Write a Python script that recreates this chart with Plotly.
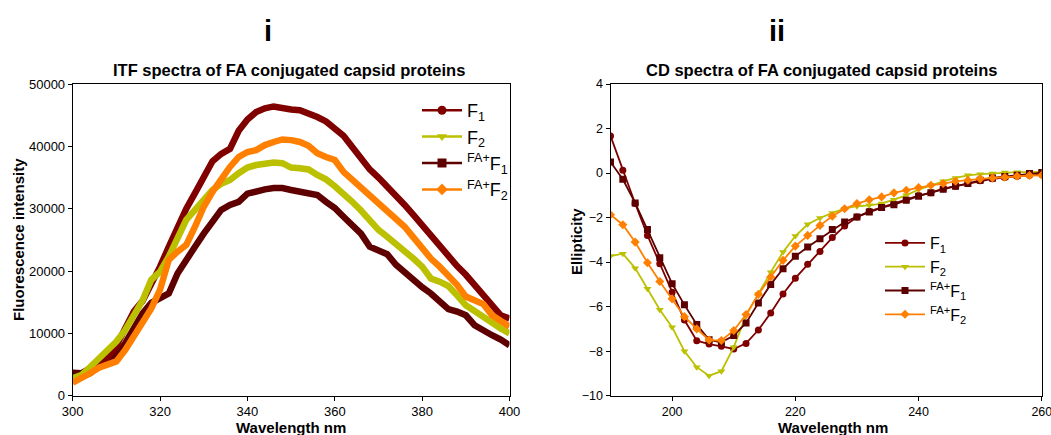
import plotly.graph_objects as go

# ---------------- data: panel i (ITF spectra) ----------------
itf_wl = [300, 302, 304, 306, 308, 310, 312, 314, 316, 318, 320, 322, 324, 326, 328, 330,
          332, 334, 336, 338, 340, 342, 344, 346, 348, 350, 352, 354, 356, 358, 360, 362,
          364, 366, 368, 370, 372, 374, 376, 378, 380, 382, 384, 386, 388, 390, 392, 394,
          396, 398, 400]
itf_F1 = [2500, 3000, 3600, 4800, 6200, 8000, 10500, 13500, 15200, 17800, 20700, 23900,
          27100, 30000, 32500, 35100, 37600, 38800, 39600, 42500, 44300, 45500, 46100, 46400,
          46100, 45900, 45800, 45300, 44700, 44000, 42900, 41700, 39900, 38100, 36300, 35000,
          33600, 32200, 30600, 29000, 27300, 25600, 23900, 22300, 20800, 19400, 17800, 16100,
          14300, 12900, 12400]
itf_F2 = [2800, 3300, 4600, 6000, 7300, 8700, 10500, 12900, 15300, 18600, 19900, 22300,
          25200, 28200, 29800, 31400, 33000, 34000, 34600, 35700, 36600, 37000, 37300, 37400,
          37300, 36600, 36500, 36300, 35400, 34700, 33600, 32500, 31100, 29700, 28200, 26600,
          25500, 24400, 23300, 22000, 20700, 18800, 18300, 17600, 16100, 14500, 13600, 12600,
          11700, 10800, 10000]
itf_FAF1 = [3700, 3600, 4400, 5300, 5800, 6500, 8400, 10800, 13200, 14900, 15600, 16400,
            19600, 22000, 23900, 26000, 27900, 29800, 30600, 31100, 32400, 32800, 33100, 33300,
            33300, 33000, 32700, 32600, 32200, 31100, 30100, 28700, 27500, 26000, 23900, 23400,
            22700, 21000, 19700, 18600, 17400, 16400, 15200, 13900, 13500, 12900, 11300, 10400,
            9700, 9000, 8100]
itf_FAF2 = [2100, 2800, 3600, 4500, 4900, 5500, 7300, 9500, 11600, 14000, 17000, 21800,
            23100, 24200, 27100, 30300, 32700, 34900, 36700, 38300, 39100, 39400, 40200, 40700,
            41100, 41000, 40700, 40100, 38900, 38300, 37800, 35900, 34600, 33500, 32200, 30900,
            29500, 28400, 27100, 25400, 23600, 22000, 20700, 19200, 17800, 15900, 15200, 14700,
            12900, 11900, 11100]

# ---------------- data: panel ii (CD spectra) ----------------
cd_wl = [190, 192, 194, 196, 198, 200, 202, 204, 206, 208, 210, 212, 214, 216, 218, 220,
         222, 224, 226, 228, 230, 232, 234, 236, 238, 240, 242, 244, 246, 248, 250, 252,
         254, 256, 258, 260]
cd_F1 = [1.67, 0.13, -1.37, -2.8, -4.07, -5.35, -6.6, -7.53, -7.68, -7.78, -7.9, -7.65,
         -7.05, -6.28, -5.43, -4.72, -4.1, -3.52, -2.9, -2.38, -1.97, -1.72, -1.55, -1.37,
         -1.2, -1.01, -0.88, -0.7, -0.59, -0.47, -0.35, -0.26, -0.2, -0.14, -0.1, -0.07]
cd_F2 = [-3.73, -3.62, -4.27, -5.2, -6.14, -6.92, -8.0, -8.72, -9.1, -8.9, -7.82, -6.4,
         -5.43, -4.45, -3.55, -2.83, -2.3, -2.02, -1.79, -1.6, -1.49, -1.45, -1.37, -1.2,
         -1.0, -0.74, -0.55, -0.37, -0.22, -0.1, -0.05, -0.02, 0.02, 0.04, 0.04, 0.05]
cd_FAF1 = [0.5, -0.28, -1.34, -2.53, -3.8, -4.97, -5.92, -6.8, -7.49, -7.6, -7.3, -6.73,
           -5.84, -5.0, -4.3, -3.74, -3.32, -2.95, -2.54, -2.2, -1.97, -1.75, -1.55, -1.42,
           -1.22, -1.04, -0.88, -0.73, -0.59, -0.47, -0.32, -0.22, -0.16, -0.1, -0.02, 0.02]
cd_FAF2 = [-1.87, -2.32, -3.1, -4.03, -4.87, -5.65, -6.45, -7.0, -7.5, -7.52, -7.07, -6.35,
           -5.45, -4.67, -3.92, -3.28, -2.8, -2.35, -1.94, -1.6, -1.37, -1.2, -1.07, -0.89,
           -0.77, -0.65, -0.55, -0.47, -0.37, -0.32, -0.26, -0.22, -0.19, -0.14, -0.11, -0.1]

names = ["F<sub>1</sub>", "F<sub>2</sub>", "<sup>FA+</sup>F<sub>1</sub>", "<sup>FA+</sup>F<sub>2</sub>"]
colors = ["#800000", "#BBC000", "#5E0000", "#FF8000"]
symbols = ["circle", "triangle-down", "square", "diamond"]

x_ticks_i = [300, 320, 340, 360, 380, 400]
y_ticks_i = [0, 10000, 20000, 30000, 40000, 50000]
x_ticks_ii = [200, 220, 240, 260]
y_ticks_ii = [-10, -8, -6, -4, -2, 0, 2, 4]

W, H = 1051, 435
FONT = "Liberation Sans, Arial, sans-serif"


def px(x):
    return x / W


def py(y):
    return 1 - y / H


fig = go.Figure()

# Panel i thick lines
itf_series = [itf_F1, itf_F2, itf_FAF1, itf_FAF2]
draw_order = [2, 0, 1, 3]
for k in draw_order:
    fig.add_trace(go.Scatter(x=itf_wl, y=itf_series[k], mode="lines",
                             line=dict(color=colors[k], width=6.5),
                             showlegend=False, xaxis="x", yaxis="y"))
# Panel i legend entries (legend-only)
for k in range(4):
    fig.add_trace(go.Scatter(x=[None], y=[None], mode="lines+markers", name=names[k],
                             line=dict(color=colors[k], width=2.5),
                             marker=dict(symbol=symbols[k], size=9, color=colors[k]),
                             legend="legend", legendgroup="a%d" % k,
                             xaxis="x", yaxis="y"))

# Panel ii lines with markers
cd_series = [cd_F1, cd_F2, cd_FAF1, cd_FAF2]
for k in range(4):
    fig.add_trace(go.Scatter(x=cd_wl, y=cd_series[k], mode="lines+markers", name=names[k],
                             line=dict(color=colors[k], width=1.8),
                             marker=dict(symbol=symbols[k], size=7, color=colors[k]),
                             legend="legend2", legendgroup="b%d" % k,
                             xaxis="x2", yaxis="y2"))

axis_common = dict(showline=True, linecolor="black", linewidth=1, mirror=True,
                   ticks="outside", ticklen=4, tickcolor="black", showgrid=False,
                   zeroline=False, automargin=False, ticklabeloverflow="allow")

fig.update_layout(
    width=W, height=H,
    margin=dict(l=0, r=0, t=0, b=0),
    paper_bgcolor="white", plot_bgcolor="white",
    font=dict(family=FONT, color="black"),
    xaxis=dict(domain=[px(72.7), px(509.5)], range=[300, 400], tickvals=x_ticks_i,
               tickfont=dict(size=13), anchor="y", **axis_common),
    yaxis=dict(domain=[py(395.7), py(84)], range=[0, 50000], tickvals=y_ticks_i,
               tickformat="d", tickfont=dict(size=13), anchor="x", **axis_common),
    xaxis2=dict(domain=[px(610.5), px(1041.8)], range=[190, 260], tickvals=x_ticks_ii,
                tickfont=dict(size=12.5), tickprefix="<b>", ticksuffix="</b>",
                anchor="y2", **axis_common),
    yaxis2=dict(domain=[py(395.7), py(84)], range=[-10, 4], tickvals=y_ticks_ii,
                tickfont=dict(size=12.5), tickprefix="<b>", ticksuffix="</b>",
                anchor="x2", **axis_common),
    legend=dict(x=px(417), y=py(92), xanchor="left", yanchor="top",
                font=dict(size=18), bgcolor="rgba(0,0,0,0)", tracegroupgap=0,
                itemwidth=40),
    legend2=dict(x=px(880), y=py(226), xanchor="left", yanchor="top",
                 font=dict(size=16), bgcolor="rgba(0,0,0,0)", tracegroupgap=0,
                 itemwidth=40),
)

annots = [
    dict(text="<b>i</b>", x=px(268), y=py(31), size=29, angle=0),
    dict(text="<b>ii</b>", x=px(777), y=py(31), size=29, angle=0),
    dict(text="<b>ITF spectra of FA conjugated capsid proteins</b>", x=px(289), y=py(70), size=16.5, angle=0),
    dict(text="<b>CD spectra of FA conjugated capsid proteins</b>", x=px(821), y=py(70), size=16.5, angle=0),
    dict(text="<b>Wavelength nm</b>", x=px(291), y=py(427), size=15, angle=0),
    dict(text="<b>Wavelength nm</b>", x=px(833), y=py(427), size=15, angle=0),
    dict(text="<b>Fluorescence intensity</b>", x=px(18), y=py(240), size=15, angle=-90),
    dict(text="<b>Ellipticity</b>", x=px(577), y=py(242), size=15, angle=-90),
]
for a in annots:
    fig.add_annotation(text=a["text"], x=a["x"], y=a["y"], xref="paper", yref="paper",
                       xanchor="center", yanchor="middle", showarrow=False,
                       textangle=a["angle"], font=dict(size=a["size"], family=FONT, color="black"))

fig.write_html("out.html")
